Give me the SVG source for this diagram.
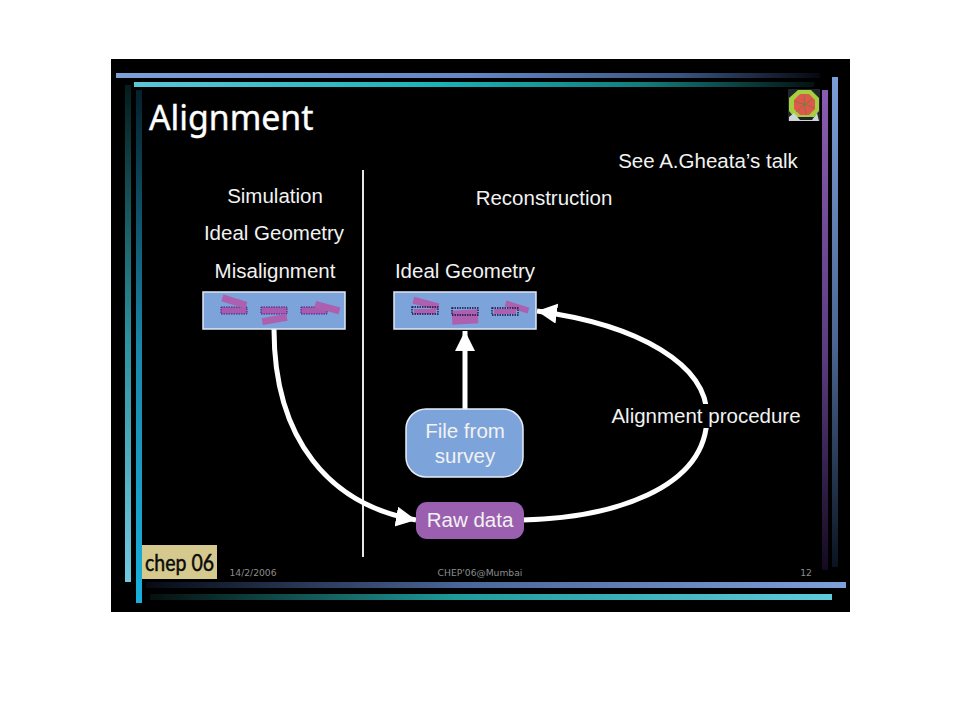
<svg xmlns="http://www.w3.org/2000/svg" width="960" height="720" viewBox="0 0 960 720">
<style>
.l{font-family:"Liberation Sans",Arial,sans-serif;font-size:20.5px;fill:#f2f2f2;text-anchor:middle}
.f{font-family:"DejaVu Sans",sans-serif;font-size:9.2px;fill:#8c8c8c;text-anchor:middle}
.c{fill:none;stroke:#fff;stroke-width:5}
.b{fill:#7ca3da;stroke:#dfe8f5;stroke-width:1.5}
.m{fill:#ad5fb0}
.o{fill:#a85cb0;stroke:#3a2478;stroke-width:1;stroke-dasharray:1.5 1}
.n{fill:none;stroke:#14143c;stroke-width:1.3;stroke-dasharray:1.5 1}
.r{stroke:#4f8a3a;stroke-width:.7}
</style>
<defs>
<linearGradient id="g1"><stop offset="0" stop-color="#7c9fd8"/><stop offset=".5" stop-color="#6488c4"/><stop offset=".8" stop-color="#3a5480"/><stop offset="1" stop-color="#05080f"/></linearGradient>
<linearGradient id="g2"><stop offset="0" stop-color="#5cc5d8"/><stop offset=".45" stop-color="#19b3b8"/><stop offset=".75" stop-color="#127c7c"/><stop offset="1" stop-color="#041212"/></linearGradient>
<linearGradient id="g3" x2="0" y2="1"><stop offset="0" stop-color="#041c1c"/><stop offset=".5" stop-color="#2b8f9c"/><stop offset="1" stop-color="#72c9e0"/></linearGradient>
<linearGradient id="g4" x2="0" y2="1"><stop offset="0" stop-color="#05202c"/><stop offset=".5" stop-color="#1a86a8"/><stop offset="1" stop-color="#18b0de"/></linearGradient>
<linearGradient id="g5" x2="0" y2="1"><stop offset="0" stop-color="#8a5bb0"/><stop offset=".55" stop-color="#5b3c80"/><stop offset="1" stop-color="#140a20"/></linearGradient>
<linearGradient id="g6" x2="0" y2="1"><stop offset="0" stop-color="#7c9fd8"/><stop offset=".55" stop-color="#4a6590"/><stop offset="1" stop-color="#0a1420"/></linearGradient>
<linearGradient id="g7"><stop offset="0" stop-color="#060a14"/><stop offset=".45" stop-color="#4a6597"/><stop offset="1" stop-color="#7f9fdc"/></linearGradient>
<linearGradient id="g8"><stop offset="0" stop-color="#04100f"/><stop offset=".45" stop-color="#1f9a9a"/><stop offset="1" stop-color="#5fcbdc"/></linearGradient>
<marker id="a" markerUnits="userSpaceOnUse" markerWidth="24" markerHeight="22" refX="20" refY="10" orient="auto"><path d="M0 0L20 10L0 20z" fill="#fff"/></marker>
</defs>
<rect width="960" height="720" fill="#fff"/>
<rect x="111" y="59" width="739" height="553" fill="#000"/>
<g id="frame">
<rect x="116" y="73" width="704" height="5" fill="url(#g1)"/>
<rect x="134" y="82" width="680" height="5" fill="url(#g2)"/>
<rect x="125" y="85" width="6" height="497" fill="url(#g3)"/>
<rect x="136" y="90" width="6" height="513" fill="url(#g4)"/>
<rect x="822" y="90" width="6" height="480" fill="url(#g5)"/>
<rect x="832" y="77" width="6" height="490" fill="url(#g6)"/>
<rect x="146" y="582" width="700" height="6" fill="url(#g7)"/>
<rect x="150" y="594" width="682" height="6" fill="url(#g8)"/>
</g>
<text x="149" y="130" font-size="33.8" fill="#fff" stroke="#fff" stroke-width=".4" style="font-family:'Noto Sans','DejaVu Sans',sans-serif">Alignment</text>
<g id="logo-alice">
<rect x="788" y="89" width="32" height="32" fill="#20262b"/>
<path d="M798 90H811L819 98V111L814 117H794L789 111V98z" fill="#a5cf3e"/>
<path d="M800 94H809L815 100V109L809 115H800L794 109V100z" fill="#e2574c"/>
<path class="r" d="M804.500 104.500L804 94M804.500 104.500L813 99M804.500 104.500L815 108M804.500 104.500L806 115M804.500 104.500L796 112M804.500 104.500L794 101"/>
<path d="M789 121V117L794 113L800 120H812L817 113L819 121z" fill="#cfd6d6"/>
</g>
<text x="708" y="168" class="l">See A.Gheata’s talk</text>
<line x1="363" y1="170" x2="363" y2="557" stroke="#e6e6e6" stroke-width="2"/>
<text x="275" y="203" class="l">Simulation</text>
<text x="274" y="240" class="l">Ideal Geometry</text>
<text x="275" y="278" class="l">Misalignment</text>
<text x="544" y="205" class="l">Reconstruction</text>
<text x="465" y="278" class="l">Ideal Geometry</text>
<g id="connectors">
<path class="c" d="M274 329C274 440 330 505 416 520" marker-end="url(#a)"/>
<path class="c" d="M465 409V331" marker-end="url(#a)"/>
<path class="c" d="M522 520C610 518 707 490 707 416C707 365 640 325 537 311" marker-end="url(#a)"/>
</g>
<g id="misaligned-box">
<rect class="b" x="203" y="292" width="142" height="37"/>
<rect class="o" x="221" y="307" width="26" height="7"/>
<rect class="m" x="222" y="298" width="25" height="7" transform="rotate(17 234 301)"/>
<rect class="o" x="261" y="307" width="26" height="7"/>
<rect class="m" x="262" y="316" width="25" height="7" transform="rotate(-10 274 319)"/>
<rect class="o" x="301" y="307" width="26" height="7"/>
<rect class="m" x="315" y="304" width="25" height="7" transform="rotate(15 327 307)"/>
</g>
<g id="ideal-box">
<rect class="b" x="394" y="292" width="142" height="37"/>
<rect class="m" x="413" y="300" width="26" height="7" transform="rotate(15 426 303)"/>
<rect class="m" x="414" y="309" width="22" height="5"/>
<rect class="n" x="412" y="307" width="26" height="7"/>
<rect class="m" x="452" y="310" width="26" height="14" transform="rotate(-3 465 317)"/>
<rect class="n" x="452" y="308" width="26" height="7"/>
<rect class="m" x="494" y="309" width="22" height="5"/>
<rect class="m" x="505" y="304" width="24" height="6" transform="rotate(18 517 307)"/>
<rect class="n" x="492" y="308" width="26" height="7"/>
</g>
<g id="survey">
<rect x="406" y="409" width="117" height="68" rx="20" fill="#7ca3da" stroke="#e8eef8" stroke-width="1.5"/>
<text x="465" y="438" class="l">File from</text>
<text x="465" y="463" class="l">survey</text>
</g>
<g id="raw-data">
<rect x="416" y="502" width="108" height="37" rx="11" fill="#9b5fb0"/>
<text x="470" y="527" class="l">Raw data</text>
</g>
<g id="alignment-procedure">
<rect x="690" y="404" width="30" height="24" fill="#000"/>
<text x="706" y="423" class="l">Alignment procedure</text>
</g>
<g id="logo-chep">
<rect x="142" y="545" width="75" height="34" fill="#d6c98e"/>
<text x="145" y="571" font-size="24" textLength="69" lengthAdjust="spacingAndGlyphs" fill="#0a0a0a" stroke="#0a0a0a" stroke-width=".5" style="font-family:Lato,'DejaVu Sans',sans-serif">chep 06</text>
</g>
<text x="253" y="576" class="f">14/2/2006</text>
<text x="480" y="576" class="f">CHEP'06@Mumbai</text>
<text x="806" y="576" class="f">12</text>
</svg>
